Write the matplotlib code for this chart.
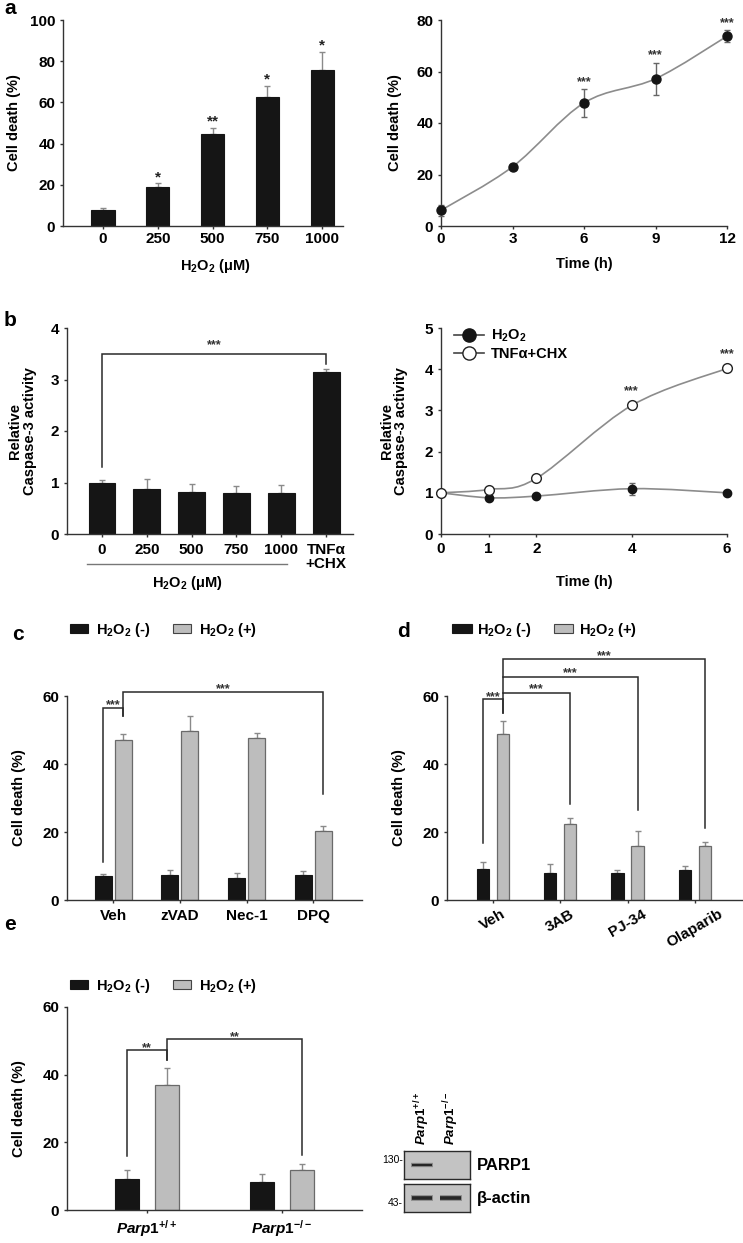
import numpy as np
import matplotlib
matplotlib.use('Agg')
import matplotlib.pyplot as plt
from matplotlib.patches import Patch, PathPatch
from matplotlib.lines import Line2D
from matplotlib.path import Path
import matplotlib.transforms as mtransforms

plt.rcParams['font.family'] = ['Liberation Sans', 'DejaVu Sans']
plt.rcParams['font.weight'] = 'bold'
plt.rcParams['axes.labelweight'] = 'bold'
plt.rcParams['mathtext.fontset'] = 'custom'
plt.rcParams['mathtext.rm'] = 'Liberation Sans:bold'
plt.rcParams['mathtext.bf'] = 'Liberation Sans:bold'
plt.rcParams['mathtext.it'] = 'Liberation Sans:italic:bold'
plt.rcParams['mathtext.default'] = 'bf'

# ---------------- data ----------------
# panel a (left): dose response
a_conc = ['0', '250', '500', '750', '1000']
a_death = [7.9, 19.1, 44.7, 62.6, 75.7]
a_err = [1.0, 1.6, 2.9, 5.6, 8.9]
a_sig = ['', '*', '**', '*', '*']

# panel a (right): time course
a2_time = [0, 3, 6, 9, 12]
a2_death = [6.1, 23.0, 47.8, 57.2, 73.7]
a2_err = [2.2, 1.0, 5.4, 6.2, 2.3]
a2_sig = ['', '', '***', '***', '***']

# panel b (left): caspase-3 activity
b_labels = ['0', '250', '500', '750', '1000', 'TNFα\n+CHX']
b_act = [1.0, 0.87, 0.82, 0.79, 0.79, 3.15]
b_err = [0.05, 0.20, 0.15, 0.14, 0.16, 0.05]

# panel b (right): caspase-3 time course
b2_time = [0, 1, 2, 4, 6]
b2_h2o2 = [1.0, 0.88, 0.92, 1.10, 1.0]
b2_h2o2_err = [0.04, 0.02, 0.03, 0.15, 0.04]
b2_tnf = [1.0, 1.08, 1.35, 3.12, 4.02]
b2_tnf_err = [0.03, 0.03, 0.06, 0.05, 0.04]
b2_sig = ['', '', '', '***', '***']

# panel c
c_groups = ['Veh', 'zVAD', 'Nec-1', 'DPQ']
c_neg = [7.2, 7.5, 6.6, 7.5]
c_neg_err = [0.5, 1.2, 1.3, 1.1]
c_pos = [47.1, 49.8, 47.6, 20.2]
c_pos_err = [1.6, 4.2, 1.6, 1.5]

# panel d
d_groups = ['Veh', '3AB', 'PJ-34', 'Olaparib']
d_neg = [9.1, 7.8, 7.8, 8.8]
d_neg_err = [2.0, 2.7, 1.1, 1.3]
d_pos = [48.9, 22.3, 15.9, 15.8]
d_pos_err = [3.7, 1.9, 4.3, 1.3]

# panel e
e_groups = [r'$\mathit{Parp1}^{\mathit{+/+}}$', r'$\mathit{Parp1}^{\mathit{-/-}}$']
e_neg = [9.1, 8.2]
e_neg_err = [2.8, 2.4]
e_pos = [36.8, 11.7]
e_pos_err = [5.1, 1.9]

# western blot (band presence per lane)
blot_lanes = e_groups
parp1_band = [1.0, 0.0]
actin_band = [1.0, 1.0]

H2O2 = r'H$_2$O$_2$'
leg_labels = [H2O2 + ' (-)', H2O2 + ' (+)']

# ---------------- style ----------------
W, H = 743, 1243
fig = plt.figure(figsize=(W / 100, H / 100), dpi=100)
BLACK = '#151515'
GRAY = '#bdbdbd'
GEDGE = '#6a6a6a'
AX = '#333333'
FS = 10.5
TFS = 11


def box(x0, y0, x1, y1):
    return fig.add_axes([x0 / W, 1 - y1 / H, (x1 - x0) / W, (y1 - y0) / H])


def style(ax, xpad=2.0, ypad=3.0):
    for s in ['top', 'right']:
        ax.spines[s].set_visible(False)
    for s in ['left', 'bottom']:
        ax.spines[s].set_color(AX)
        ax.spines[s].set_linewidth(1.0)
    ax.tick_params(direction='out', length=2.5, width=1.0, color=AX, labelsize=TFS)
    ax.tick_params(axis='x', pad=xpad)
    ax.tick_params(axis='y', pad=ypad)


def ylab(ax, text, x):
    ax.set_ylabel(text, fontsize=FS, linespacing=1.05)
    ax.yaxis.set_label_coords(x, 0.5)
    ax.yaxis.label.set_verticalalignment('center')


def smooth_path(x, y):
    x = np.asarray(x, float)
    y = np.asarray(y, float)
    n = len(x)
    verts = [(x[0], y[0])]
    codes = [Path.MOVETO]
    for i in range(n - 1):
        i0 = max(i - 1, 0)
        i3 = min(i + 2, n - 1)
        c1 = (x[i] + (x[i + 1] - x[i0]) / 6, y[i] + (y[i + 1] - y[i0]) / 6)
        c2 = (x[i + 1] - (x[i3] - x[i]) / 6, y[i + 1] - (y[i3] - y[i]) / 6)
        verts += [c1, c2, (x[i + 1], y[i + 1])]
        codes += [Path.CURVE4] * 3
    return Path(verts, codes)


def bracket(ax, pts, label, lx, ly, dy=0.0, fs=9):
    xs = [p[0] for p in pts]
    ys = [p[1] for p in pts]
    ax.plot(xs, ys, color='#2a2a2a', lw=1.1, clip_on=False, solid_joinstyle='miter')
    ax.annotate(label, (lx, ly), xytext=(0, dy), textcoords='offset points',
                ha='center', va='baseline', fontsize=fs, color='#333333',
                annotation_clip=False)


def letter(s, x, y):
    fig.text(x / W, 1 - y / H, s, fontsize=15, fontweight='bold', ha='left', va='baseline')


def bar_legend(ax, x, y, hl=1.25, tp=0.5, cs=1.6):
    handles = [Patch(facecolor=BLACK, edgecolor=BLACK, lw=0.8),
               Patch(facecolor=GRAY, edgecolor='#444444', lw=0.8)]
    ax.legend(handles, leg_labels, ncol=2, loc='center left',
              bbox_to_anchor=(x / W, 1 - y / H), bbox_transform=fig.transFigure,
              frameon=False, handlelength=hl, handleheight=0.55, handletextpad=tp,
              columnspacing=cs, borderpad=0, borderaxespad=0, fontsize=FS)


# ---------------- panel a left ----------------
ax = box(63, 20, 343, 226)
style(ax)
xa = np.arange(len(a_conc))
ax.bar(xa, a_death, width=0.42, color=BLACK, edgecolor=BLACK, lw=0.8, zorder=2)
ax.errorbar(xa, a_death, yerr=[np.zeros(len(xa)), a_err], fmt='none', ecolor='#8a8a8a',
            elinewidth=1.0, capsize=2.2, capthick=1.0, zorder=1)
for i, s in enumerate(a_sig):
    if s:
        ax.annotate(s, (xa[i], a_death[i] + a_err[i]), xytext=(0, 1.5), textcoords='offset points',
                    ha='center', va='baseline', fontsize=11, color='#222222')
ax.set_xlim(-0.73, 4.38)
ax.set_ylim(0, 100)
ax.set_yticks(range(0, 101, 20))
ax.set_xticks(xa, a_conc)
ylab(ax, 'Cell death (%)', -0.175)
ax.set_xlabel(H2O2 + ' (μM)', fontsize=FS)
ax.xaxis.set_label_coords(0.543, -0.15)
ax.xaxis.label.set_verticalalignment('top')

# ---------------- panel a right ----------------
ax = box(441, 20, 727, 226)
style(ax)
ax.add_patch(PathPatch(smooth_path(a2_time, a2_death), fill=False, edgecolor='#8c8c8c', lw=1.2, zorder=1))
ax.errorbar(a2_time, a2_death, yerr=a2_err, fmt='o', color=BLACK, ms=6.5, ecolor='#666666',
            elinewidth=1.0, capsize=2.5, capthick=1.0, clip_on=False, zorder=3)
for i, s in enumerate(a2_sig):
    if s:
        ax.annotate(s, (a2_time[i], a2_death[i] + a2_err[i]), xytext=(0, 3), textcoords='offset points',
                    ha='center', va='baseline', fontsize=9, color='#333333', annotation_clip=False)
ax.set_xlim(0, 12)
ax.set_ylim(0, 80)
ax.set_xticks(a2_time)
ax.set_yticks(range(0, 81, 20))
ylab(ax, 'Cell death (%)', -0.161)
ax.set_xlabel('Time (h)', fontsize=FS)
ax.xaxis.set_label_coords(0.5, -0.15)
ax.xaxis.label.set_verticalalignment('top')

# ---------------- panel b left ----------------
ax = box(67, 328, 353, 534)
style(ax, xpad=4.0)
xb = np.arange(len(b_labels))
ax.bar(xb, b_act, width=0.6, color=BLACK, edgecolor=BLACK, lw=0.8, zorder=2)
ax.errorbar(xb, b_act, yerr=[np.zeros(len(xb)), b_err], fmt='none', ecolor='#8a8a8a',
            elinewidth=1.0, capsize=2.2, capthick=1.0, zorder=1)
ax.set_xlim(-0.78, 5.6)
ax.set_ylim(0, 4)
ax.set_yticks(range(0, 5))
ax.set_xticks(xb, b_labels)
for t in ax.get_xticklabels():
    t.set_linespacing(1.0)
ylab(ax, 'Relative\nCaspase-3 activity', -0.156)
bracket(ax, [(0, 1.31), (0, 3.49), (5, 3.49), (5, 3.31)], '***', 2.5, 3.49, dy=4.5)
trans = mtransforms.blended_transform_factory(ax.transData, ax.transAxes)
ax.plot([-0.33, 4.13], [-0.146, -0.146], color='#777777', lw=1.0, transform=trans, clip_on=False)
ax.text(1.9, -0.24, H2O2 + ' (μM)', transform=trans, ha='center', va='center', fontsize=FS)

# ---------------- panel b right ----------------
ax = box(441, 328, 727, 534)
style(ax, xpad=3.0)
ax.add_patch(PathPatch(smooth_path(b2_time, b2_h2o2), fill=False, edgecolor='#8c8c8c', lw=1.2, zorder=1))
ax.add_patch(PathPatch(smooth_path(b2_time, b2_tnf), fill=False, edgecolor='#8c8c8c', lw=1.2, zorder=1))
ax.errorbar(b2_time, b2_h2o2, yerr=b2_h2o2_err, fmt='o', color=BLACK, ms=6, ecolor='#666666',
            elinewidth=1.0, capsize=2.5, capthick=1.0, clip_on=False, zorder=3)
ax.errorbar(b2_time, b2_tnf, yerr=b2_tnf_err, fmt='o', mfc='white', mec='#222222', mew=1.0, ms=7,
            ecolor='#666666', elinewidth=1.0, capsize=2.5, capthick=1.0, clip_on=False, zorder=4)
for i, s in enumerate(b2_sig):
    if s:
        ax.annotate(s, (b2_time[i], b2_tnf[i]), xytext=(0, 8), textcoords='offset points',
                    ha='center', va='baseline', fontsize=9, color='#333333', annotation_clip=False)
ax.set_xlim(0, 6)
ax.set_ylim(0, 5)
ax.set_xticks(b2_time)
ax.set_yticks(range(0, 6))
ylab(ax, 'Relative\nCaspase-3 activity', -0.164)
ax.set_xlabel('Time (h)', fontsize=FS)
ax.xaxis.set_label_coords(0.5, -0.2)
ax.xaxis.label.set_verticalalignment('top')
lh = [Line2D([], [], color='#444444', lw=1.2, marker='o', mfc=BLACK, mec=BLACK, ms=9.5),
      Line2D([], [], color='#444444', lw=1.2, marker='o', mfc='white', mec='#222222', ms=9.5)]
ax.legend(lh, [H2O2, 'TNFα+CHX'], loc='upper left', bbox_to_anchor=(0.045, 1.0), frameon=False,
          handlelength=2.1, handletextpad=0.45, labelspacing=0.2, borderpad=0, borderaxespad=0,
          fontsize=FS)

# ---------------- panel c ----------------
ax = box(67, 696, 362, 900)
style(ax, xpad=4.5)
xc = np.arange(len(c_groups))
ax.bar(xc - 0.15, c_neg, width=0.255, color=BLACK, edgecolor=BLACK, lw=0.8, zorder=2)
ax.bar(xc + 0.15, c_pos, width=0.255, color=GRAY, edgecolor=GEDGE, lw=0.9, zorder=2)
ax.errorbar(xc - 0.15, c_neg, yerr=[np.zeros(4), c_neg_err], fmt='none', ecolor='#8a8a8a',
            elinewidth=1.0, capsize=2.2, capthick=1.0, zorder=1)
ax.errorbar(xc + 0.15, c_pos, yerr=[np.zeros(4), c_pos_err], fmt='none', ecolor='#8a8a8a',
            elinewidth=1.0, capsize=2.2, capthick=1.0, zorder=1)
ax.set_xlim(-0.69, 3.73)
ax.set_ylim(0, 60)
ax.set_yticks([0, 20, 40, 60])
ax.set_xticks(xc, c_groups)
ax.tick_params(axis='x', length=2)
ylab(ax, 'Cell death (%)', -0.163)
bracket(ax, [(-0.15, 11.2), (-0.15, 56.6), (0.15, 56.6), (0.15, 54.0)], '***', 0.0, 56.6, dy=-0.5)
bracket(ax, [(0.15, 54.0), (0.15, 61.2), (3.15, 61.2), (3.15, 31.2)], '***', 1.65, 61.2, dy=0.0)
bar_legend(ax, 70, 630)

# ---------------- panel d ----------------
ax = box(447, 696, 742, 900)
style(ax, xpad=3.0)
xd = np.arange(len(d_groups))
ax.bar(xd - 0.149, d_neg, width=0.18, color=BLACK, edgecolor=BLACK, lw=0.8, zorder=2)
ax.bar(xd + 0.149, d_pos, width=0.18, color=GRAY, edgecolor=GEDGE, lw=0.9, zorder=2)
ax.errorbar(xd - 0.149, d_neg, yerr=[np.zeros(4), d_neg_err], fmt='none', ecolor='#8a8a8a',
            elinewidth=1.0, capsize=2.0, capthick=1.0, zorder=1)
ax.errorbar(xd + 0.149, d_pos, yerr=[np.zeros(4), d_pos_err], fmt='none', ecolor='#8a8a8a',
            elinewidth=1.0, capsize=2.0, capthick=1.0, zorder=1)
ax.set_xlim(-0.68, 3.7)
ax.set_ylim(0, 60)
ax.set_yticks([0, 20, 40, 60])
ax.set_xticks(xd, d_groups, rotation=30, ha='center')
ax.tick_params(axis='x', length=2)
ylab(ax, 'Cell death (%)', -0.163)
bracket(ax, [(-0.149, 16.7), (-0.149, 59.0), (0.149, 59.0), (0.149, 55.1)], '***', 0.0, 59.0, dy=-0.5)
bracket(ax, [(0.149, 55.1), (0.149, 61.0), (1.149, 61.0), (1.149, 28.1)], '***', 0.649, 61.0, dy=0.0)
bracket(ax, [(0.149, 61.0), (0.149, 65.7), (2.149, 65.7), (2.149, 26.5)], '***', 1.149, 65.7, dy=0.0)
bracket(ax, [(0.149, 65.7), (0.149, 70.8), (3.149, 70.8), (3.149, 21.1)], '***', 1.649, 70.8, dy=0.0)
bar_legend(ax, 452, 630, hl=1.35, tp=0.35, cs=1.55)

# ---------------- panel e ----------------
ax = box(67, 1007, 362, 1210)
style(ax, xpad=3.5)
xe = np.arange(len(e_groups))
ax.bar(xe - 0.148, e_neg, width=0.178, color=BLACK, edgecolor=BLACK, lw=0.8, zorder=2)
ax.bar(xe + 0.148, e_pos, width=0.178, color=GRAY, edgecolor=GEDGE, lw=0.9, zorder=2)
ax.errorbar(xe - 0.148, e_neg, yerr=[np.zeros(2), e_neg_err], fmt='none', ecolor='#8a8a8a',
            elinewidth=1.0, capsize=2.2, capthick=1.0, zorder=1)
ax.errorbar(xe + 0.148, e_pos, yerr=[np.zeros(2), e_pos_err], fmt='none', ecolor='#8a8a8a',
            elinewidth=1.0, capsize=2.2, capthick=1.0, zorder=1)
ax.set_xlim(-0.59, 1.59)
ax.set_ylim(0, 60)
ax.set_yticks([0, 20, 40, 60])
ax.set_xticks(xe, e_groups)
ax.tick_params(axis='x', length=2)
ylab(ax, 'Cell death (%)', -0.163)
bracket(ax, [(-0.148, 16.0), (-0.148, 47.3), (0.148, 47.3), (0.148, 44.4)], '**', 0.0, 47.3, dy=-1.0)
bracket(ax, [(0.148, 44.4), (0.148, 50.5), (1.148, 50.5), (1.148, 16.3)], '**', 0.648, 50.5, dy=-1.0)
bar_legend(ax, 70, 986)

# ---------------- western blot ----------------
def blot_box(y0, y1, bands, lw):
    bx = box(404, y0, 470, y1)
    bx.set_facecolor('#c3c3c3')
    for s in bx.spines.values():
        s.set_color('#2a2a2a')
        s.set_linewidth(1.0)
    bx.set_xticks([])
    bx.set_yticks([])
    bx.set_xlim(-0.62, 1.66)
    bx.set_ylim(-1, 1)
    for i, v in enumerate(bands):
        if v > 0:
            bx.plot([i - 0.38, i + 0.38], [0.0, 0.0], color='#8a8a8a', lw=lw + 1.5,
                    solid_capstyle='butt', alpha=v)
            bx.plot([i - 0.36, i + 0.36], [0.0, 0.0], color='#262626', lw=lw,
                    solid_capstyle='butt', alpha=v)
    return bx


blot_box(1151, 1179, parp1_band, 1.6)
blot_box(1184, 1212, actin_band, 2.6)
fig.text(403 / W, 1 - 1160 / H, '130-', ha='right', va='center', fontsize=7.5, fontweight='normal')
fig.text(403 / W, 1 - 1203 / H, '43-', ha='right', va='center', fontsize=7.5, fontweight='normal')
fig.text(477 / W, 1 - 1165 / H, 'PARP1', ha='left', va='center', fontsize=12)
fig.text(477 / W, 1 - 1198 / H, 'β-actin', ha='left', va='center', fontsize=12)
for xl, lab in zip([422, 451], blot_lanes):
    fig.text(xl / W, 1 - 1145 / H, lab, rotation=90, ha='center', va='bottom', fontsize=9.5)

# ---------------- panel letters ----------------
letter('a', 4, 14)
letter('b', 4, 326)
letter('c', 12, 640)
letter('d', 397, 637)
letter('e', 4, 930)

fig.savefig('out.png', dpi=100)
